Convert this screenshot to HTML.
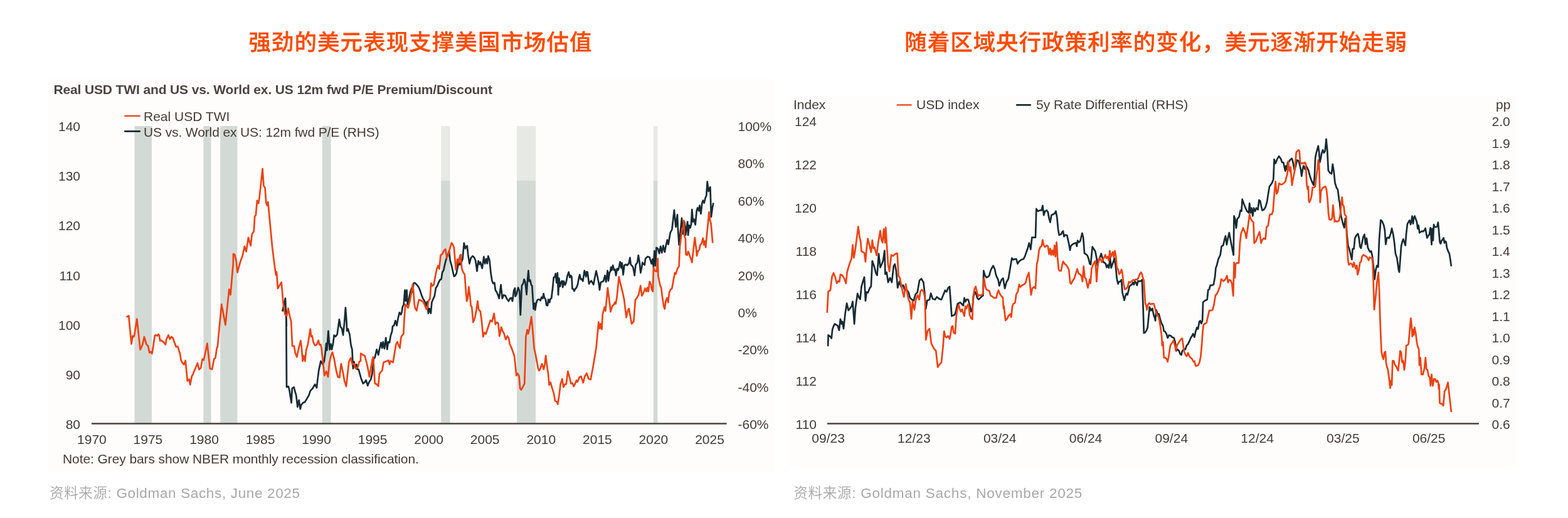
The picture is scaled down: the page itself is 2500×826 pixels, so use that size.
<!DOCTYPE html><html><head><meta charset="utf-8"><title>USD charts</title><style>
html,body{margin:0;padding:0;background:#fff;}
body{width:2500px;height:826px;overflow:hidden;position:relative;}
svg{position:absolute;left:0;top:0;}
.t{font-family:"Liberation Sans","Noto Sans CJK SC",sans-serif;font-size:21px;fill:#433a36;}
.h{font-family:"Liberation Sans","Noto Sans CJK SC",sans-serif;font-weight:500;font-size:35.5px;fill:#fe4c00;stroke:#fe4c00;stroke-width:0.35px;}
.s{font-family:"Liberation Sans","Noto Sans CJK SC",sans-serif;font-weight:350;font-size:22.5px;letter-spacing:0.65px;fill:#a8a8a8;}
.b{font-family:"Liberation Sans",sans-serif;font-weight:700;font-size:21px;fill:#4c4340;letter-spacing:-0.13px;}
</style></head><body>
<svg width="2500" height="826" viewBox="0 0 2500 826">
<rect x="77" y="125" width="1155" height="627" fill="#fefefe"/>
<rect x="77" y="128" width="1158" height="624" fill="#fefdfb"/>
<rect x="1256" y="152" width="1168" height="595" fill="#fefefe"/>
<rect x="1256" y="152" width="1162.7" height="592" fill="#fefdfb"/>
<text class="h" x="396.4" y="80" style="letter-spacing:1.05px">强劲的美元表现支撑美国市场估值</text>
<text class="h" x="1442.3" y="80" style="letter-spacing:0.95px">随着区域央行政策利率的变化，美元逐渐开始走弱</text>
<text class="b" x="85.4" y="149.6">Real USD TWI and US vs. World ex. US 12m fwd P/E Premium/Discount</text>
<rect x="214.4" y="201" width="27.6" height="474" fill="#d3dad5"/>
<rect x="324.4" y="201" width="12.2" height="474" fill="#d3dad5"/>
<rect x="351.2" y="201" width="27.2" height="474" fill="#d3dad5"/>
<rect x="514" y="201" width="13.5" height="474" fill="#d3dad5"/>
<rect x="703.2" y="201" width="14.4" height="87" fill="#e7e9e5"/>
<rect x="703.2" y="288" width="14.4" height="387" fill="#d3dad5"/>
<rect x="824" y="201" width="30.2" height="87" fill="#e7e9e5"/>
<rect x="824" y="288" width="30.2" height="387" fill="#d3dad5"/>
<rect x="1041.9" y="201" width="6.5" height="87" fill="#e7e9e5"/>
<rect x="1041.9" y="288" width="6.5" height="387" fill="#d3dad5"/>
<line x1="146" y1="675.5" x2="1158.6" y2="675.5" stroke="#4a403c" stroke-width="2.4"/>
<text class="t" x="128" y="684.0" text-anchor="end">80</text>
<text class="t" x="128" y="604.8" text-anchor="end">90</text>
<text class="t" x="128" y="525.7" text-anchor="end">100</text>
<text class="t" x="128" y="446.5" text-anchor="end">110</text>
<text class="t" x="128" y="367.3" text-anchor="end">120</text>
<text class="t" x="128" y="288.2" text-anchor="end">130</text>
<text class="t" x="128" y="209.0" text-anchor="end">140</text>
<text class="t" x="1176.5" y="684.0">-60%</text>
<text class="t" x="1176.5" y="624.6">-40%</text>
<text class="t" x="1176.5" y="565.2">-20%</text>
<text class="t" x="1176.5" y="505.9">0%</text>
<text class="t" x="1176.5" y="446.5">20%</text>
<text class="t" x="1176.5" y="387.1">40%</text>
<text class="t" x="1176.5" y="327.8">60%</text>
<text class="t" x="1176.5" y="268.4">80%</text>
<text class="t" x="1176.5" y="209.0">100%</text>
<text class="t" x="146.4" y="708" text-anchor="middle">1970</text>
<text class="t" x="235.9" y="708" text-anchor="middle">1975</text>
<text class="t" x="325.5" y="708" text-anchor="middle">1980</text>
<text class="t" x="415.0" y="708" text-anchor="middle">1985</text>
<text class="t" x="504.6" y="708" text-anchor="middle">1990</text>
<text class="t" x="594.1" y="708" text-anchor="middle">1995</text>
<text class="t" x="683.7" y="708" text-anchor="middle">2000</text>
<text class="t" x="773.2" y="708" text-anchor="middle">2005</text>
<text class="t" x="862.8" y="708" text-anchor="middle">2010</text>
<text class="t" x="952.4" y="708" text-anchor="middle">2015</text>
<text class="t" x="1041.9" y="708" text-anchor="middle">2020</text>
<text class="t" x="1131.5" y="708" text-anchor="middle">2025</text>
<text class="t" x="100" y="739" style="letter-spacing:-0.09px">Note: Grey bars show NBER monthly recession classification.</text>
<polyline points="450.3,496.6 454.9,475.8 456.8,520.0 456.3,501.8 457.0,617.3 459.8,616.2 461.3,621.6 464.6,642.3 465.7,619.5 468.5,617.3 472.2,630.4 474.4,648.9 476.6,638.0 478.8,652.2 480.3,645.6 483.1,642.3 486.0,641.3 488.6,636.9 492.5,630.4 494.7,623.4 498.4,619.5 502.1,612.9 504.9,618.4 506.0,608.6 508.2,591.1 511.4,575.9 514.7,581.3 516.9,575.9 518.6,562.8 520.2,547.6 521.3,558.5 523.4,527.9 525.6,557.4 527.4,548.6 528.9,557.4 531.1,547.6 532.6,534.5 534.8,536.7 537.6,533.4 540.9,509.4 543.0,521.4 545.0,523.6 547.0,534.3 549.2,513.6 550.9,490.7 552.6,513.6 553.1,527.7 554.8,524.5 557.4,533.2 559.6,550.6 561.4,557.2 562.9,587.7 564.4,576.8 566.1,585.5 568.3,581.1 569.4,588.8 571.6,588.8 573.8,596.4 575.9,604.0 578.8,611.6 581.4,609.5 583.6,606.2 586.2,614.9 588.4,609.5 591.2,605.1 593.4,596.4 595.6,572.4 597.7,570.2 600.6,557.2 603.2,565.9 604.9,557.2 607.5,546.3 609.3,555.0 610.8,545.2 613.0,556.1 615.2,538.6 617.3,557.2 618.9,545.2 621.0,546.3 622.8,535.4 625.0,528.8 626.1,520.1 628.2,519.0 630.4,511.4 632.6,519.0 634.8,507.0 636.9,498.3 639.1,501.6 640.4,498.6 642.0,488.8 643.7,485.5 645.5,462.6 647.0,480.0 648.5,462.6 649.8,485.5 652.0,476.8 654.2,465.9 656.4,459.3 657.9,465.9 659.4,451.7 661.6,451.1 664.4,453.9 667.7,458.3 669.9,463.7 672.0,470.2 674.2,475.7 677.5,481.1 679.7,487.7 681.2,481.1 682.9,499.7 684.7,492.0 686.9,499.7 688.4,482.2 690.6,476.8 692.7,472.4 694.9,459.3 697.1,456.1 699.3,450.6 701.4,446.3 703.6,445.2 705.2,434.3 707.3,431.0 708.6,424.5 710.2,417.9 712.3,410.3 713.9,407.0 716.0,400.5 717.8,415.8 720.0,423.4 722.1,433.2 723.9,440.8 725.4,439.7 727.6,436.5 729.8,425.6 731.3,413.6 733.0,422.3 735.0,420.1 737.6,412.7 739.8,387.6 742.0,396.3 743.5,393.1 744.8,392.0 746.3,406.2 748.5,420.3 750.7,411.6 753.5,408.3 756.1,410.5 758.3,416.0 760.5,432.3 762.7,416.0 764.4,421.4 765.9,418.1 768.8,427.9 771.4,409.4 773.1,420.3 775.3,412.7 776.8,420.3 778.4,408.3 780.5,414.9 782.7,436.7 784.5,447.6 786.2,451.9 788.4,450.8 789.9,462.8 792.1,466.1 794.3,471.5 795.8,475.9 798.6,454.1 800.8,475.9 803.0,470.4 805.8,471.5 808.4,477.0 811.0,480.2 813.2,475.9 815.0,474.8 817.1,480.2 819.3,462.8 821.1,459.5 821.7,472.7 823.9,468.3 826.1,458.5 828.3,464.0 829.8,502.1 832.0,455.3 834.2,452.0 835.7,445.4 837.4,449.8 839.6,469.6 841.1,446.0 842.5,431.5 843.7,448.4 845.3,446.6 847.1,454.5 848.3,455.7 849.8,478.7 850.7,492.6 852.6,483.5 853.2,494.4 855.0,483.5 856.5,478.7 858.0,477.5 859.8,477.5 861.6,479.3 863.5,473.8 865.3,475.7 866.7,468.4 867.9,474.5 869.9,477.5 871.3,486.6 873.1,487.2 874.3,477.5 876.2,482.3 877.4,476.9 879.2,475.7 881.0,460.5 882.8,442.4 884.6,441.8 885.8,436.3 887.3,450.8 888.9,435.1 890.1,470.2 891.3,443.6 892.9,456.9 894.3,450.8 896.1,447.8 897.3,458.1 898.9,448.4 901.0,454.5 902.8,449.6 904.6,440.0 906.7,433.9 908.6,442.4 910.1,439.3 911.5,441.2 912.5,460.5 913.9,460.5 915.5,464.2 917.3,460.5 919.1,458.7 921.2,453.3 922.8,443.6 924.3,438.1 926.0,445.4 927.6,444.8 929.4,448.4 930.6,440.0 931.9,431.5 933.1,436.3 934.3,441.2 935.0,438.7 935.4,433.3 936.7,433.9 939.1,452.6 940.9,449.6 942.7,447.8 944.5,450.8 946.3,453.8 948.2,443.0 950.6,432.1 953.0,443.0 954.8,452.6 956.0,462.3 957.8,450.2 960.3,449.0 962.1,448.4 964.5,439.3 966.3,449.6 968.7,431.5 970.0,447.8 971.8,434.5 973.0,433.3 974.2,426.0 975.4,430.8 977.2,423.0 979.0,430.8 980.6,429.6 982.1,439.3 983.9,428.4 985.4,430.8 986.9,426.6 988.7,417.5 990.5,427.2 991.7,419.3 993.6,438.1 995.4,423.0 997.8,421.8 1000.0,423.0 1002.6,420.0 1004.5,410.9 1005.7,421.8 1007.5,423.6 1009.3,426.0 1010.5,432.1 1011.7,439.3 1013.5,422.4 1014.7,420.6 1016.2,418.7 1017.8,407.2 1019.6,417.5 1021.4,435.1 1023.2,426.0 1024.4,418.7 1026.2,421.2 1027.8,422.4 1029.0,412.7 1030.0,411.5 1032.6,409.2 1035.7,410.3 1038.8,420.6 1040.5,413.4 1041.9,425.7 1043.4,400.0 1045.0,423.6 1046.6,394.8 1049.1,396.9 1051.2,404.1 1053.2,392.8 1055.3,403.1 1057.4,391.7 1059.8,402.0 1061.5,392.8 1063.9,382.5 1065.6,389.7 1068.7,371.2 1071.4,366.0 1074.9,335.1 1077.5,361.9 1080.0,342.3 1080.7,361.4 1082.6,390.4 1084.5,373.0 1087.0,347.8 1089.0,373.0 1091.3,353.6 1093.2,374.9 1094.8,361.4 1096.2,353.6 1097.1,374.9 1098.7,359.4 1100.6,363.3 1102.0,357.5 1103.3,334.2 1104.9,353.6 1106.8,349.7 1108.7,358.5 1110.7,336.2 1112.2,331.3 1114.2,336.2 1115.5,327.5 1117.5,341.0 1119.4,323.6 1120.8,319.7 1122.7,323.6 1124.6,315.8 1126.2,312.0 1127.7,289.7 1129.7,305.2 1131.6,299.4 1132.4,298.4 1133.9,345.9 1135.9,331.3 1137.4,323.6" fill="none" stroke="#162b33" stroke-width="2.7" stroke-linejoin="round"/>
<polyline points="201.6,505.7 205.2,503.4 209.5,548.5 211.5,535.6 213.1,537.2 214.2,534.9 218.3,508.6 223.6,557.7 227.2,549.8 229.9,537.2 233.5,549.0 236.2,552.2 238.3,562.4 240.6,560.8 242.2,564.0 243.0,560.8 246.9,534.9 248.5,534.1 250.8,535.6 252.4,532.8 254.0,534.9 255.1,543.5 257.1,542.7 259.5,544.3 261.9,546.7 263.9,549.5 265.5,540.4 268.6,534.4 270.8,540.7 273.3,536.9 275.5,538.8 278.4,546.7 280.7,553.0 283.4,552.6 285.4,559.2 287.0,564.0 288.6,574.2 291.0,578.9 293.3,581.3 295.7,575.0 298.8,607.3 301.7,604.9 303.2,613.5 305.9,599.4 307.9,597.0 308.6,593.9 312.2,586.0 314.9,578.9 317.4,589.2 320.1,586.8 322.7,572.6 324.9,574.2 330.4,547.5 334.8,587.8 338.1,588.9 341.3,572.5 343.5,570.4 345.7,555.1 346.8,552.9 353.3,485.4 359.4,518.1 365.3,461.4 366.4,462.5 367.5,470.1 371.8,420.0 372.0,404.9 374.2,406.0 376.8,416.9 378.5,434.3 383.3,416.9 386.6,408.2 389.9,392.9 392.5,401.2 396.0,378.8 399.7,391.8 401.8,373.3 404.7,369.0 406.2,345.0 407.9,342.8 409.9,319.9 412.1,324.3 413.8,313.4 418.6,269.2 420.4,296.0 422.5,299.2 424.3,323.2 425.8,327.6 427.3,322.1 434.2,394.9 437.1,418.1 439.0,432.6 440.0,438.5 441.0,433.6 442.9,459.8 445.8,454.9 448.7,450.1 451.6,484.0 454.5,501.4 457.4,503.3 459.4,491.7 462.0,504.0 464.2,512.7 466.1,551.9 469.0,551.9 470.7,562.8 473.3,569.3 476.6,554.1 479.4,543.2 480.9,554.1 482.5,575.9 484.2,567.2 486.4,575.9 488.1,558.5 490.8,549.7 494.7,524.7 496.2,536.7 497.7,535.6 499.5,545.4 502.1,550.8 504.9,549.7 507.7,542.8 509.3,549.7 511.4,549.3 513.0,558.5 514.7,575.9 517.3,598.8 520.2,592.2 523.0,600.9 525.2,578.1 527.8,567.2 530.0,561.7 532.6,571.5 536.1,591.1 538.7,600.9 541.3,602.0 543.0,586.8 543.9,580.0 546.5,592.0 549.2,607.3 552.0,616.0 554.2,596.4 556.3,576.8 559.2,570.7 561.8,581.1 564.4,580.0 567.2,587.7 570.5,585.5 572.7,576.8 574.9,575.7 575.3,563.7 578.8,565.9 581.4,567.0 584.7,579.0 586.8,588.8 589.0,600.8 591.2,587.7 593.4,574.6 594.9,569.2 596.6,592.0 597.7,611.6 600.6,612.7 603.2,616.0 604.9,596.4 607.1,593.1 609.3,590.9 611.5,577.9 614.1,576.8 616.7,575.7 619.5,574.6 621.0,580.7 622.8,575.7 625.0,576.8 626.7,577.9 628.9,563.7 631.5,548.5 633.7,545.2 635.9,551.7 637.6,555.0 639.1,539.7 640.0,537.6 639.8,536.7 643.3,532.3 644.8,505.1 646.3,485.5 648.5,487.7 650.7,490.9 653.5,480.0 655.7,468.1 657.9,453.9 659.4,465.9 660.7,485.5 662.2,492.0 664.4,495.3 666.6,483.3 668.1,477.9 670.9,479.0 674.2,481.1 676.8,485.5 679.7,493.1 681.2,492.0 683.4,479.0 685.5,476.8 687.3,451.7 689.0,456.1 691.6,453.9 693.8,441.9 696.4,428.8 698.6,423.4 700.4,428.8 702.5,407.0 705.2,404.9 708.0,399.4 710.2,397.2 712.3,411.4 714.5,407.0 717.4,396.2 720.0,387.4 721.7,389.6 723.9,395.1 725.4,413.6 726.9,429.9 729.1,413.6 731.3,419.0 733.5,407.0 735.0,406.0 734.8,412.7 736.5,429.0 738.7,434.5 740.9,437.7 742.0,454.1 744.2,480.2 745.7,475.9 747.4,457.4 749.2,471.5 750.7,487.9 752.2,489.0 754.4,514.0 757.2,506.4 759.4,495.5 761.6,480.2 763.1,493.3 765.9,496.6 768.1,512.9 770.3,536.9 772.5,530.4 774.7,532.5 776.8,526.0 779.7,517.3 781.9,510.8 784.5,512.9 787.7,499.9 789.9,517.3 792.1,514.0 794.3,515.1 796.4,535.8 799.3,521.6 801.5,528.2 803.6,531.5 806.3,541.3 808.9,535.8 811.0,539.1 812.8,548.9 815.4,554.3 820.0,567.2 821.7,582.4 823.3,598.8 825.4,595.5 827.6,599.9 829.2,619.5 830.9,621.6 833.5,617.3 836.3,611.8 838.5,536.7 840.7,525.8 842.2,532.3 844.0,524.7 847.2,505.1 849.4,527.9 851.6,555.2 853.8,565.0 855.9,575.9 858.1,587.9 859.7,591.1 861.8,586.8 864.0,580.2 865.8,584.6 866.8,589.0 868.4,582.4 870.1,567.2 872.3,584.6 874.0,595.5 875.6,614.0 877.7,609.7 879.9,617.3 883.2,628.2 884.9,639.1 887.5,640.2 889.3,644.5 891.5,630.4 893.6,612.9 896.3,604.2 898.4,617.3 900.6,612.9 902.8,612.5 905.4,592.2 908.2,602.0 910.4,611.8 912.6,610.8 914.8,616.2 916.9,611.8 919.1,606.4 920.0,608.6 920.6,609.1 923.9,601.4 926.5,600.2 929.8,610.3 932.3,600.2 935.4,595.1 938.4,604.0 941.7,605.3 945.5,584.9 950.6,554.4 954.4,513.7 956.2,523.9 957.7,516.3 959.5,525.2 960.8,501.0 963.9,489.6 965.4,495.9 968.9,459.1 971.5,479.4 973.5,497.2 976.1,488.3 978.6,485.8 980.6,481.9 981.7,484.5 983.7,473.1 986.8,441.3 989.3,452.7 992.6,465.4 995.2,478.1 998.5,506.1 1001.0,494.7 1002.8,492.1 1004.6,502.3 1007.1,516.3 1010.4,512.5 1013.0,478.1 1015.0,475.6 1018.2,470.0 1021.3,455.5 1023.4,471.6 1026.1,466.9 1028.5,459.7 1030.6,464.8 1032.2,458.6 1033.7,464.8 1035.7,449.0 1037.8,453.5 1039.2,461.7 1040.9,464.8 1041.9,426.7 1044.0,431.9 1047.1,432.9 1048.7,412.3 1049.5,441.1 1052.2,453.5 1054.3,459.7 1056.3,476.1 1058.4,488.5 1059.8,492.6 1061.5,480.2 1063.5,475.1 1065.2,482.3 1067.2,465.8 1069.3,461.7 1071.4,459.7 1073.8,446.3 1075.9,435.0 1077.5,437.0 1080.0,428.8 1082.6,424.3 1083.9,394.3 1086.5,373.0 1087.8,365.2 1089.4,361.4 1090.3,351.7 1091.3,376.9 1092.9,380.7 1093.6,405.9 1095.6,406.9 1097.1,401.1 1098.7,404.0 1100.0,408.8 1102.0,413.7 1103.3,418.5 1105.3,400.1 1107.8,378.8 1109.7,394.3 1111.1,407.8 1113.0,400.1 1114.9,398.2 1116.5,390.4 1118.4,388.5 1120.8,379.8 1122.3,390.4 1123.8,384.6 1125.2,394.3 1127.1,373.0 1129.1,353.6 1130.4,338.1 1132.0,351.7 1133.5,355.5 1134.9,371.0 1136.2,387.5" fill="none" stroke="#ec4212" stroke-width="2.7" stroke-linejoin="round"/>
<line x1="199.1" y1="184.8" x2="222.9" y2="184.8" stroke="#ec4212" stroke-width="2.3" stroke-linecap="round"/>
<line x1="199.3" y1="209.4" x2="222.7" y2="209.4" stroke="#162b33" stroke-width="2.7" stroke-linecap="round"/>
<text class="t" x="229" y="193">Real USD TWI</text>
<text class="t" x="229" y="217.8" style="letter-spacing:-0.12px">US vs. World ex US: 12m fwd P/E (RHS)</text>
<text class="s" x="79" y="794">资料来源: Goldman Sachs, June 2025</text>
<text class="t" x="1265" y="174">Index</text>
<text class="t" x="2385" y="174">pp</text>
<line x1="1431" y1="167.4" x2="1452.5" y2="167.4" stroke="#ec4212" stroke-width="2.4" stroke-linecap="round"/>
<text class="t" x="1461" y="174.2">USD index</text>
<line x1="1621.2" y1="167.4" x2="1642.7" y2="167.4" stroke="#162b33" stroke-width="2.7" stroke-linecap="round"/>
<text class="t" x="1652" y="174.2">5y Rate Differential (RHS)</text>
<line x1="1319" y1="675.5" x2="2358" y2="675.5" stroke="#4a403c" stroke-width="2.4"/>
<text class="t" x="1302" y="684.0" text-anchor="end">110</text>
<text class="t" x="1302" y="615.0" text-anchor="end">112</text>
<text class="t" x="1302" y="546.0" text-anchor="end">114</text>
<text class="t" x="1302" y="477.0" text-anchor="end">116</text>
<text class="t" x="1302" y="408.1" text-anchor="end">118</text>
<text class="t" x="1302" y="339.1" text-anchor="end">120</text>
<text class="t" x="1302" y="270.1" text-anchor="end">122</text>
<text class="t" x="1302" y="201.1" text-anchor="end">124</text>
<text class="t" x="2378.5" y="684.0">0.6</text>
<text class="t" x="2378.5" y="649.5">0.7</text>
<text class="t" x="2378.5" y="615.0">0.8</text>
<text class="t" x="2378.5" y="580.5">0.9</text>
<text class="t" x="2378.5" y="546.0">1.0</text>
<text class="t" x="2378.5" y="511.5">1.1</text>
<text class="t" x="2378.5" y="477.0">1.2</text>
<text class="t" x="2378.5" y="442.6">1.3</text>
<text class="t" x="2378.5" y="408.1">1.4</text>
<text class="t" x="2378.5" y="373.6">1.5</text>
<text class="t" x="2378.5" y="339.1">1.6</text>
<text class="t" x="2378.5" y="304.6">1.7</text>
<text class="t" x="2378.5" y="270.1">1.8</text>
<text class="t" x="2378.5" y="235.6">1.9</text>
<text class="t" x="2378.5" y="201.1">2.0</text>
<text class="t" x="1320.6" y="705.5" text-anchor="middle">09/23</text>
<text class="t" x="1457.4" y="705.5" text-anchor="middle">12/23</text>
<text class="t" x="1594.2" y="705.5" text-anchor="middle">03/24</text>
<text class="t" x="1731.0" y="705.5" text-anchor="middle">06/24</text>
<text class="t" x="1867.8" y="705.5" text-anchor="middle">09/24</text>
<text class="t" x="2004.6" y="705.5" text-anchor="middle">12/24</text>
<text class="t" x="2141.4" y="705.5" text-anchor="middle">03/25</text>
<text class="t" x="2278.2" y="705.5" text-anchor="middle">06/25</text>
<text class="s" x="1265.3" y="794" style="letter-spacing:0.75px">资料来源: Goldman Sachs, November 2025</text>
<polyline points="1320.1,552.1 1320.6,534.3 1323.9,536.9 1325.7,539.4 1327.2,525.4 1329.0,520.3 1330.8,516.5 1332.8,517.8 1335.4,519.1 1337.9,526.7 1339.9,508.9 1341.7,516.5 1343.0,512.7 1345.0,524.2 1347.6,500.0 1350.1,483.5 1352.7,494.9 1355.7,491.1 1357.7,488.6 1359.5,480.9 1362.1,516.5 1363.9,491.1 1367.2,468.2 1369.7,474.6 1371.5,477.1 1373.5,456.8 1376.1,447.9 1378.1,442.0 1379.9,479.7 1381.7,465.7 1383.7,466.9 1386.8,459.3 1388.8,456.8 1390.8,416.1 1393.9,425.0 1396.4,435.2 1398.5,439.0 1401.0,404.7 1403.5,426.3 1405.3,422.5 1407.9,416.1 1410.4,399.6 1411.4,437.2 1413.7,434.3 1416.0,450.2 1419.0,443.0 1421.9,450.2 1424.8,424.1 1426.8,421.2 1428.8,431.4 1431.2,459.0 1434.1,448.8 1437.0,457.5 1439.9,454.6 1442.8,463.3 1445.7,461.9 1448.6,466.2 1450.9,474.9 1453.8,477.8 1456.7,479.3 1459.7,469.1 1462.6,466.2 1466.0,447.3 1469.0,444.4 1472.4,450.2 1474.2,466.2 1476.2,492.4 1478.3,479.3 1482.0,477.8 1484.1,467.7 1487.0,476.4 1490.8,477.8 1493.7,473.5 1497.4,476.4 1500.9,477.8 1505.0,467.7 1506.8,463.0 1509.2,465.4 1511.6,459.3 1514.0,456.9 1515.7,479.9 1517.4,504.1 1519.9,502.9 1522.3,501.7 1524.2,495.6 1526.6,484.7 1528.6,483.5 1531.0,482.3 1533.4,484.7 1535.8,487.2 1537.5,475.1 1539.2,481.1 1541.2,477.5 1543.6,477.5 1546.0,486.0 1548.4,496.9 1550.4,492.0 1552.1,472.6 1554.5,465.4 1556.2,467.8 1558.1,475.1 1560.5,477.5 1563.0,475.1 1565.4,472.6 1567.3,471.4 1568.3,431.5 1570.2,438.7 1572.6,442.4 1575.5,441.2 1577.5,438.7 1579.4,431.5 1581.8,426.6 1583.5,423.7 1586.0,429.1 1587.7,437.5 1589.6,442.4 1591.5,446.0 1593.2,455.7 1594.9,450.8 1596.9,446.0 1599.3,443.6 1602.1,460.0 1604.7,449.8 1607.7,444.7 1610.3,429.5 1613.3,411.7 1615.9,414.2 1618.4,413.0 1620.4,413.0 1622.5,420.6 1625.0,416.8 1628.1,414.2 1631.9,413.0 1634.4,407.9 1637.0,400.3 1638.8,395.2 1640.8,387.5 1643.3,397.7 1645.4,378.6 1648.4,378.6 1651.0,378.6 1652.3,332.9 1654.8,336.7 1658.1,335.4 1660.6,335.4 1662.4,327.8 1664.2,343.1 1666.2,336.7 1668.8,335.4 1670.8,338.0 1672.6,348.1 1674.4,354.5 1676.4,343.1 1679.0,341.8 1681.5,340.5 1683.5,336.7 1685.3,346.9 1687.1,365.9 1688.6,374.8 1691.7,373.6 1693.7,369.7 1695.0,368.5 1696.4,377.2 1698.2,374.5 1701.3,375.4 1703.1,383.6 1704.5,390.0 1706.0,399.0 1707.2,392.7 1709.6,390.0 1712.7,388.1 1715.4,387.2 1716.9,392.7 1718.1,383.6 1719.9,386.3 1722.3,384.5 1724.1,377.2 1725.4,371.8 1727.2,379.1 1729.0,403.6 1731.4,405.4 1733.6,407.2 1735.7,412.7 1737.5,420.8 1739.0,421.7 1741.7,393.6 1744.1,397.2 1746.3,400.8 1748.4,411.7 1749.9,424.5 1751.7,416.3 1753.9,409.9 1755.7,404.5 1757.5,410.8 1759.3,418.1 1761.1,419.0 1763.0,420.8 1764.4,426.3 1766.2,422.6 1768.0,427.2 1769.9,411.7 1771.7,427.2 1773.5,421.7 1774.9,418.1 1776.8,411.7 1778.9,425.4 1780.7,444.4 1782.6,452.6 1784.4,449.0 1786.2,449.0 1788.0,446.2 1789.5,466.2 1791.5,474.5 1792.6,478.8 1794.2,472.3 1795.9,467.9 1797.6,470.1 1799.2,463.6 1800.7,457.0 1802.4,454.9 1804.6,453.8 1806.4,450.5 1807.9,453.8 1809.4,448.3 1811.1,450.5 1812.9,454.9 1814.4,448.3 1816.6,448.3 1818.8,448.3 1820.9,446.2 1822.5,487.6 1823.8,531.1 1826.0,530.0 1828.1,526.8 1829.7,522.4 1831.2,507.2 1832.9,489.7 1835.1,495.2 1837.3,491.9 1839.5,502.8 1841.2,507.2 1842.1,511.5 1843.4,494.1 1845.6,500.6 1847.7,500.6 1849.9,509.3 1852.1,515.9 1854.3,520.2 1855.8,527.9 1858.0,529.0 1860.2,533.3 1861.7,538.8 1863.9,534.4 1866.7,535.5 1868.9,537.7 1871.7,538.8 1873.9,546.4 1875.4,559.5 1877.6,557.3 1879.8,559.5 1881.9,564.9 1883.5,566.0 1885.0,559.5 1885.4,559.5 1887.6,556.2 1889.8,557.3 1892.0,550.8 1894.2,548.6 1896.3,544.2 1898.5,538.8 1900.7,535.5 1902.2,532.2 1904.4,537.7 1906.2,529.0 1908.3,522.4 1910.1,524.6 1912.3,512.6 1913.8,511.5 1915.3,515.9 1917.1,511.5 1918.1,482.1 1920.3,479.9 1922.5,478.8 1924.7,477.7 1926.2,462.5 1928.0,461.4 1929.7,454.9 1932.3,454.9 1934.9,453.8 1937.1,441.8 1938.4,427.6 1940.0,423.2 1942.5,413.1 1945.6,406.7 1947.6,392.7 1950.2,391.4 1952.2,382.5 1954.0,376.2 1955.8,390.2 1957.8,380.0 1959.8,371.1 1962.4,385.1 1964.9,397.8 1966.7,406.7 1967.5,344.4 1969.3,349.5 1971.0,363.5 1972.6,349.5 1975.6,345.7 1977.7,335.5 1979.4,336.8 1980.7,317.7 1983.3,325.3 1985.8,331.7 1988.3,336.8 1990.9,339.3 1992.2,324.1 1993.9,339.3 1995.5,331.7 1997.3,344.4 1999.0,331.7 2001.1,336.8 2003.1,331.7 2005.6,334.2 2007.4,319.0 2009.2,320.3 2010.7,327.9 2012.5,335.5 2015.1,334.2 2017.6,330.4 2020.2,321.5 2021.9,310.1 2024.0,297.4 2027.8,292.3 2030.3,285.9 2031.6,254.2 2033.6,260.5 2036.7,252.9 2039.2,249.1 2040.4,250.9 2042.3,253.6 2044.1,259.0 2046.3,259.0 2047.7,266.3 2049.2,272.7 2050.4,264.5 2051.7,269.9 2053.1,259.0 2055.0,258.1 2056.8,255.4 2059.5,252.7 2060.8,255.4 2062.2,262.7 2064.0,271.7 2065.9,264.5 2068.0,255.4 2070.4,256.3 2072.2,262.7 2074.0,270.8 2075.3,280.8 2076.7,271.7 2078.2,264.5 2079.5,266.3 2080.7,269.9 2082.5,264.5 2084.4,268.1 2086.2,271.7 2088.5,280.8 2090.4,286.3 2092.7,291.7 2094.5,295.4 2095.8,282.6 2097.1,251.8 2098.5,244.5 2100.0,239.1 2101.8,232.7 2103.1,242.7 2104.3,259.0 2105.8,252.7 2107.2,244.5 2109.0,239.1 2110.9,243.6 2112.7,240.9 2114.5,221.8 2116.3,240.9 2117.8,271.7 2120.3,275.4 2123.0,277.2 2124.8,261.8 2126.7,273.6 2128.5,291.7 2130.8,299.0 2133.0,302.6 2135.0,319.0 2136.1,324.2 2137.7,342.4 2139.7,350.8 2141.6,358.1 2143.3,363.0 2145.0,348.4 2146.5,355.7 2147.4,372.6 2149.4,392.0 2151.3,396.9 2153.0,404.1 2155.4,413.8 2156.6,396.9 2158.6,396.9 2160.3,379.9 2162.7,375.1 2165.1,372.6 2166.8,379.9 2168.3,393.2 2170.0,395.6 2171.6,387.2 2173.6,377.5 2175.5,373.8 2177.2,389.6 2178.9,379.9 2180.8,394.4 2182.8,399.3 2184.5,401.7 2186.2,400.5 2188.1,409.0 2190.0,425.9 2191.7,445.3 2193.4,430.8 2195.4,423.5 2197.3,425.9 2199.0,382.3 2201.4,350.8 2203.8,353.3 2206.3,359.3 2208.0,367.8 2209.4,389.6 2211.1,379.9 2212.8,378.7 2214.7,379.9 2217.2,372.6 2219.1,364.2 2221.5,375.1 2223.2,387.2 2224.9,404.1 2227.3,411.4 2230.0,430.8 2231.0,433.9 2232.3,416.6 2234.1,392.6 2235.7,385.9 2237.3,381.3 2239.0,385.9 2240.7,391.3 2242.0,373.9 2243.9,357.3 2245.6,354.0 2247.4,351.3 2249.0,358.0 2250.3,352.6 2251.6,344.6 2253.0,356.6 2254.0,348.6 2255.6,344.6 2257.0,348.6 2259.0,354.0 2260.3,364.6 2261.6,359.3 2263.3,371.3 2264.9,370.0 2266.9,368.6 2268.9,369.3 2270.9,367.3 2272.7,364.0 2274.0,372.6 2275.3,379.3 2277.2,375.9 2278.9,373.9 2280.7,363.3 2281.6,375.3 2282.5,389.9 2283.6,364.6 2284.9,383.3 2286.0,358.0 2287.6,362.0 2289.6,362.0 2291.3,361.3 2292.9,354.6 2294.2,370.0 2295.6,385.9 2296.9,388.6 2298.5,383.9 2300.2,381.9 2301.6,379.3 2302.9,387.3 2304.2,384.6 2305.6,385.9 2306.9,395.3 2308.9,400.6 2310.9,404.6 2312.6,415.2 2313.9,424.6" fill="none" stroke="#162b33" stroke-width="2.7" stroke-linejoin="round"/>
<polyline points="1318.8,498.7 1320.6,464.4 1323.9,463.1 1326.5,441.5 1329.0,435.2 1331.5,441.5 1334.1,451.7 1336.6,447.9 1338.4,449.2 1339.9,437.7 1343.0,439.0 1346.0,444.1 1348.8,451.7 1350.6,433.9 1353.2,425.0 1355.7,417.4 1357.7,412.3 1359.5,390.7 1361.3,411.0 1363.3,400.8 1365.9,380.5 1368.4,361.4 1370.5,378.0 1372.3,385.6 1373.5,400.8 1376.1,402.1 1378.1,403.4 1379.9,417.4 1381.7,395.8 1383.7,380.5 1386.2,390.7 1388.8,402.1 1390.8,383.1 1392.6,395.8 1394.4,394.5 1397.7,407.2 1400.2,386.9 1403.5,367.8 1405.3,381.8 1407.1,386.9 1409.1,365.3 1411.2,386.9 1412.2,362.7 1413.7,387.8 1416.0,422.6 1418.1,432.8 1421.0,406.7 1423.9,408.1 1426.8,405.2 1430.6,403.8 1432.6,440.1 1434.7,443.0 1437.0,454.6 1439.3,466.2 1441.3,473.5 1444.2,453.1 1446.3,466.2 1448.6,477.8 1450.9,482.2 1453.0,508.4 1455.0,480.8 1457.9,493.8 1460.2,477.8 1463.1,470.6 1465.5,477.8 1467.5,464.8 1469.5,461.9 1472.4,464.8 1474.8,474.9 1476.2,541.8 1479.1,527.2 1482.0,524.3 1484.9,547.6 1489.3,556.3 1492.2,559.2 1495.1,585.4 1498.0,581.0 1500.9,578.1 1503.8,550.5 1505.0,530.1 1505.3,528.3 1507.3,536.8 1509.2,538.0 1511.6,535.6 1514.0,540.4 1515.7,532.0 1517.4,521.1 1518.9,519.9 1520.6,530.8 1523.0,532.0 1524.7,504.1 1526.6,492.0 1528.6,486.0 1530.3,493.2 1532.0,496.9 1533.9,493.2 1535.8,499.3 1537.5,504.1 1539.2,488.4 1540.7,492.0 1542.4,487.2 1544.1,484.7 1546.0,501.7 1548.4,507.7 1550.4,509.0 1551.3,475.1 1553.8,460.5 1555.7,456.9 1557.6,465.4 1559.3,472.6 1561.0,470.2 1563.4,471.4 1565.4,470.2 1567.3,467.8 1569.0,443.6 1570.7,455.7 1572.6,461.7 1575.5,463.0 1577.5,464.2 1579.4,471.4 1581.8,472.6 1584.7,475.1 1588.4,475.1 1590.1,467.8 1592.0,463.0 1594.4,469.0 1596.9,472.6 1598.8,473.8 1600.0,492.0 1600.6,488.0 1603.1,510.8 1605.7,508.3 1608.2,503.2 1610.8,500.7 1612.3,505.8 1614.1,488.0 1615.9,484.2 1618.4,482.9 1620.4,468.9 1623.0,465.1 1625.0,453.6 1626.8,457.5 1629.4,454.9 1632.7,453.6 1635.2,451.1 1637.0,443.5 1640.3,434.6 1642.1,452.4 1643.9,470.2 1645.9,460.0 1648.4,457.5 1651.0,460.0 1653.0,421.9 1654.8,414.2 1656.6,399.0 1658.6,393.9 1660.6,392.6 1662.4,382.5 1664.2,391.4 1666.2,393.9 1668.8,391.4 1670.8,392.6 1672.6,405.3 1674.4,396.4 1675.9,406.6 1677.7,399.0 1679.5,406.6 1681.5,391.4 1682.8,409.2 1684.6,386.3 1686.1,410.4 1687.9,429.5 1689.7,432.0 1691.7,432.0 1693.7,421.9 1695.0,416.8 1697.6,420.8 1700.0,422.6 1702.3,426.3 1704.2,429.9 1706.3,450.8 1707.8,452.6 1710.0,448.1 1712.7,444.4 1715.0,437.2 1717.6,429.0 1719.4,435.4 1721.2,437.2 1723.0,438.1 1724.8,442.6 1725.9,449.0 1727.7,424.5 1729.6,442.6 1731.4,444.4 1733.2,453.5 1734.5,459.0 1736.3,450.8 1737.5,445.3 1738.6,451.7 1740.5,428.1 1742.6,422.6 1744.4,419.0 1746.3,416.3 1747.7,435.4 1748.4,449.0 1749.9,428.1 1751.7,412.7 1753.5,411.7 1755.0,414.5 1756.8,418.1 1758.6,413.6 1760.4,410.8 1762.2,406.3 1764.0,411.7 1765.9,409.0 1767.7,415.4 1769.5,399.9 1771.3,409.9 1773.1,404.5 1774.4,401.8 1775.7,409.9 1777.5,399.9 1779.3,409.9 1780.7,426.3 1782.6,429.9 1784.4,437.2 1786.2,435.4 1788.0,429.9 1789.5,435.4 1791.5,452.7 1793.3,461.4 1795.9,460.3 1798.1,457.0 1799.8,449.4 1802.0,450.5 1804.6,448.3 1806.8,446.2 1809.0,447.2 1811.1,445.1 1813.3,446.2 1815.5,441.8 1817.7,436.3 1819.4,434.2 1820.9,437.4 1822.5,444.0 1823.8,447.2 1824.7,463.6 1826.0,483.2 1827.5,487.6 1828.6,494.1 1830.3,485.4 1832.5,483.2 1834.7,485.4 1836.9,484.3 1839.5,484.3 1841.2,489.7 1842.7,496.3 1844.9,502.8 1847.1,505.0 1848.6,511.5 1850.4,522.4 1852.1,535.5 1853.0,550.8 1854.3,545.3 1855.8,570.4 1858.0,570.4 1860.2,572.5 1861.7,576.9 1863.4,568.2 1866.0,550.8 1868.9,546.4 1871.1,543.1 1873.2,550.8 1874.8,559.5 1876.5,550.8 1878.7,547.5 1881.3,543.1 1884.1,539.9 1885.0,539.9 1886.5,550.8 1887.6,559.5 1889.8,564.9 1892.0,568.2 1894.2,562.7 1896.3,568.2 1898.5,570.4 1900.7,572.5 1902.9,576.9 1904.4,575.8 1906.2,583.4 1908.3,583.4 1910.5,582.3 1912.7,576.9 1914.4,568.2 1916.0,550.8 1917.5,529.0 1918.8,518.1 1921.4,515.9 1923.6,514.8 1925.8,505.0 1928.0,495.2 1930.6,495.2 1933.4,494.1 1935.6,485.4 1937.8,471.2 1939.9,469.0 1942.1,464.7 1943.7,460.3 1945.4,456.0 1947.1,445.1 1949.3,447.2 1950.8,448.3 1953.0,446.2 1954.6,444.0 1956.3,439.6 1958.0,450.5 1960.0,446.2 1962.3,447.5 1964.2,452.3 1966.2,471.7 1967.6,418.4 1969.1,442.6 1970.0,421.3 1971.8,419.4 1975.1,419.4 1976.9,387.6 1978.7,372.4 1982.0,363.5 1985.3,371.1 1987.1,380.0 1989.6,362.2 1992.2,341.9 1993.9,348.2 1996.0,352.0 1998.5,354.6 1999.8,387.6 2002.3,385.1 2004.9,377.5 2008.2,369.8 2010.7,387.6 2012.5,382.5 2015.1,380.0 2017.6,381.3 2019.4,362.2 2021.9,359.7 2024.5,341.9 2027.8,341.9 2029.6,336.8 2031.6,311.4 2033.6,289.7 2035.4,308.8 2037.2,306.3 2039.2,292.3 2042.6,294.4 2045.0,293.5 2047.3,291.7 2049.5,289.0 2051.0,282.6 2052.2,279.0 2053.1,271.7 2054.1,257.2 2055.3,269.9 2056.8,273.6 2057.7,266.3 2058.6,279.0 2060.0,295.4 2061.3,286.3 2062.6,280.8 2064.0,273.6 2065.5,257.2 2066.8,242.7 2068.6,240.9 2070.4,239.1 2071.7,240.9 2073.1,259.0 2074.9,260.8 2077.1,259.9 2078.9,260.8 2080.4,259.0 2081.8,260.8 2082.5,275.4 2083.6,295.4 2084.9,301.7 2085.8,297.2 2086.7,319.0 2087.6,322.6 2089.4,319.0 2091.3,311.7 2092.7,299.0 2094.9,299.0 2097.1,297.2 2098.5,282.6 2100.7,268.1 2101.8,255.4 2103.1,260.8 2104.0,293.5 2104.9,322.6 2106.1,305.3 2108.0,300.8 2109.8,299.0 2111.2,298.1 2113.0,297.2 2114.9,301.7 2116.7,319.0 2118.1,340.8 2119.4,349.8 2121.8,350.7 2123.9,348.0 2125.4,327.1 2126.7,340.8 2127.9,353.5 2129.4,351.6 2131.2,353.5 2133.9,352.6 2135.0,351.6 2136.8,342.4 2138.5,324.2 2139.7,314.5 2140.9,326.6 2142.6,329.1 2144.0,342.4 2145.7,343.6 2146.5,346.0 2146.9,372.6 2148.2,396.9 2149.4,416.2 2150.6,422.3 2153.0,419.9 2155.4,421.1 2157.1,425.9 2158.6,418.6 2160.3,423.5 2161.5,428.3 2163.4,423.5 2164.4,438.0 2166.3,432.0 2168.3,418.6 2170.0,417.4 2171.6,409.0 2173.6,406.5 2176.0,407.7 2178.4,409.0 2180.4,411.4 2182.1,415.0 2183.8,410.2 2185.7,411.4 2187.6,411.4 2188.6,421.1 2190.0,457.4 2191.0,493.7 2193.0,476.8 2195.4,450.1 2197.8,434.4 2197.7,434.8 2199.2,466.3 2200.2,502.6 2201.6,539.0 2202.6,560.8 2204.0,568.0 2205.7,572.9 2207.4,562.0 2208.9,560.8 2209.9,577.7 2211.3,585.0 2213.0,589.8 2214.2,599.5 2215.4,609.2 2216.6,618.9 2217.8,606.8 2219.1,614.0 2220.3,575.3 2222.0,575.3 2223.9,581.3 2225.8,583.8 2227.5,587.4 2229.2,591.0 2231.2,572.9 2232.4,559.5 2234.1,562.0 2235.5,577.7 2237.2,575.3 2238.9,589.8 2240.8,575.3 2242.1,551.1 2244.5,549.9 2245.7,548.6 2247.6,526.9 2249.3,507.5 2250.5,517.2 2251.7,536.5 2253.0,525.6 2254.2,534.1 2255.4,522.0 2257.3,531.7 2259.0,546.2 2260.7,553.5 2262.2,557.1 2263.1,582.5 2264.6,570.4 2266.3,597.1 2268.7,597.1 2271.1,587.4 2272.8,570.4 2274.3,588.6 2276.0,589.8 2277.7,599.5 2279.6,601.9 2280.8,615.2 2282.5,597.1 2284.4,615.2 2286.4,604.3 2288.1,604.3 2290.0,609.2 2291.9,606.6 2293.3,610.6 2293.9,619.9 2294.6,613.3 2295.5,642.6 2297.3,643.9 2299.3,643.9 2301.2,647.2 2303.2,623.9 2305.2,621.3 2308.6,609.9 2313.9,657.2" fill="none" stroke="#ec4212" stroke-width="2.7" stroke-linejoin="round"/>
</svg></body></html>
